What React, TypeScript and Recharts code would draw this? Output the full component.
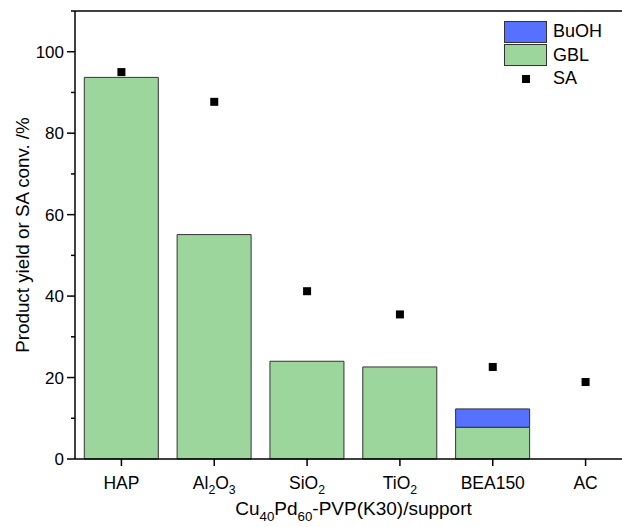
import { ComposedChart, Bar, Scatter, XAxis, YAxis, Legend, Label, ReferenceLine } from 'recharts'

const categories = ['HAP', 'Al2O3', 'SiO2', 'TiO2', 'BEA150', 'AC']
// "_" marks a subscript digit group in the tick label
const tickLabels = ['HAP', 'Al_2O_3', 'SiO_2', 'TiO_2', 'BEA150', 'AC']
const gblYield = [93.7, 55.1, 24.0, 22.6, 7.8, 0]
const buohYield = [0, 0, 0, 0, 4.5, 0]
const saConv = [95.0, 87.7, 41.2, 35.5, 22.6, 18.9]
const yTicks = [0, 10, 20, 30, 40, 50, 60, 70, 80, 90, 100, 110]

const FONT = '"Liberation Sans", Arial, sans-serif'
const GREEN = '#9DD69C'
const BLUE = '#5670FF'

const data = categories.map((name, i) => ({
  name,
  label: tickLabels[i],
  gbl: gblYield[i],
  buoh: buohYield[i],
  sa: saConv[i],
}))

function formulaSpans(text: string, size: number) {
  const parts = text.split(/(_\d+)/).filter(Boolean)
  const drop = Math.round(size * 0.3)
  let shifted = false
  return parts.map((p, i) => {
    if (p.startsWith('_')) {
      shifted = true
      return (
        <tspan key={i} dy={drop} fontSize={size * 0.7}>
          {p.slice(1)}
        </tspan>
      )
    }
    const dy = shifted ? -drop : 0
    shifted = false
    return (
      <tspan key={i} dy={dy}>
        {p}
      </tspan>
    )
  })
}

function XTick({ x, y, payload }: any) {
  const row = data.find(d => d.name === payload.value)
  return (
    <text x={x} y={y + 21} textAnchor="middle" fontSize={17.5} fill="#000" fontFamily={FONT}>
      {formulaSpans(row ? row.label : payload.value, 17.5)}
    </text>
  )
}

function YTick({ x, y, payload }: any) {
  const major = payload.value % 20 === 0
  return (
    <g>
      <line x1={x} x2={x - (major ? 8 : 4)} y1={y} y2={y} stroke="#000" strokeWidth={1.5} />
      {major && (
        <text x={x - 11} y={y} dy={6} textAnchor="end" fontSize={17} fill="#000" fontFamily={FONT}>
          {payload.value}
        </text>
      )}
    </g>
  )
}

function SquareDot({ cx, cy }: any) {
  return <rect x={cx - 4} y={cy - 4} width={8} height={8} fill="#000" />
}

function LegendBox() {
  const row = { display: 'flex', alignItems: 'center', height: 23.5, fontSize: 18, fontFamily: FONT, color: '#000' }
  const box = (c: string) => ({ width: 41, height: 20, background: c, border: '1px solid #333', marginRight: 6 })
  return (
    <div>
      <div style={row}>
        <div style={box(BLUE)} />
        BuOH
      </div>
      <div style={row}>
        <div style={box(GREEN)} />
        GBL
      </div>
      <div style={row}>
        <div style={{ width: 43, display: 'flex', justifyContent: 'center', marginRight: 6 }}>
          <div style={{ width: 8, height: 8, background: '#000' }} />
        </div>
        SA
      </div>
    </div>
  )
}

export default function App() {
  return (
    <div style={{ position: 'absolute', left: 0, top: 0, width: 622, height: 527, overflow: 'hidden', background: '#fff' }}>
      <ComposedChart
        width={650}
        height={527}
        data={data}
        margin={{ top: 11, right: 18, bottom: 0, left: 0 }}
        barCategoryGap="10%"
      >
        <XAxis
          dataKey="name"
          height={68}
          tick={<XTick />}
          tickSize={7}
          tickLine={{ stroke: '#000', strokeWidth: 1.5 }}
          axisLine={{ stroke: '#000', strokeWidth: 1.5 }}
          interval={0}
        >
          <Label
            content={({ viewBox }: any) => (
              <text
                x={viewBox.x + viewBox.width / 2}
                y={515}
                textAnchor="middle"
                fontSize={19}
                fill="#000"
                fontFamily={FONT}
              >
                {formulaSpans('Cu_40Pd_60-PVP(K30)/support', 19)}
              </text>
            )}
          />
        </XAxis>
        <YAxis
          width={75}
          domain={[0, 110]}
          ticks={yTicks}
          interval={0}
          tickSize={0}
          tickMargin={0}
          tick={<YTick />}
          tickLine={false}
          axisLine={{ stroke: '#000', strokeWidth: 1.5 }}
        >
          <Label
            content={({ viewBox }: any) => {
              const cx = 22
              const cy = viewBox.y + viewBox.height / 2
              return (
                <text
                  x={cx}
                  y={cy}
                  transform={`rotate(-90 ${cx} ${cy})`}
                  textAnchor="middle"
                  dominantBaseline="central"
                  fontSize={18.8}
                  fill="#000"
                  fontFamily={FONT}
                >
                  Product yield or SA conv. /%
                </text>
              )
            }}
          />
        </YAxis>
        <ReferenceLine y={110} stroke="#000" strokeWidth={1.5} />
        <Bar dataKey="gbl" stackId="y" fill={GREEN} stroke="#333" strokeWidth={1} isAnimationActive={false} />
        <Bar dataKey="buoh" stackId="y" fill={BLUE} stroke="#333" strokeWidth={1} isAnimationActive={false} />
        <Scatter dataKey="sa" fill="#000" shape={<SquareDot />} isAnimationActive={false} />
        <Legend
          layout="vertical"
          align="center"
          verticalAlign="middle"
          content={<LegendBox />}
          wrapperStyle={{ top: 20, left: 504, width: 110 }}
        />
      </ComposedChart>
    </div>
  )
}
